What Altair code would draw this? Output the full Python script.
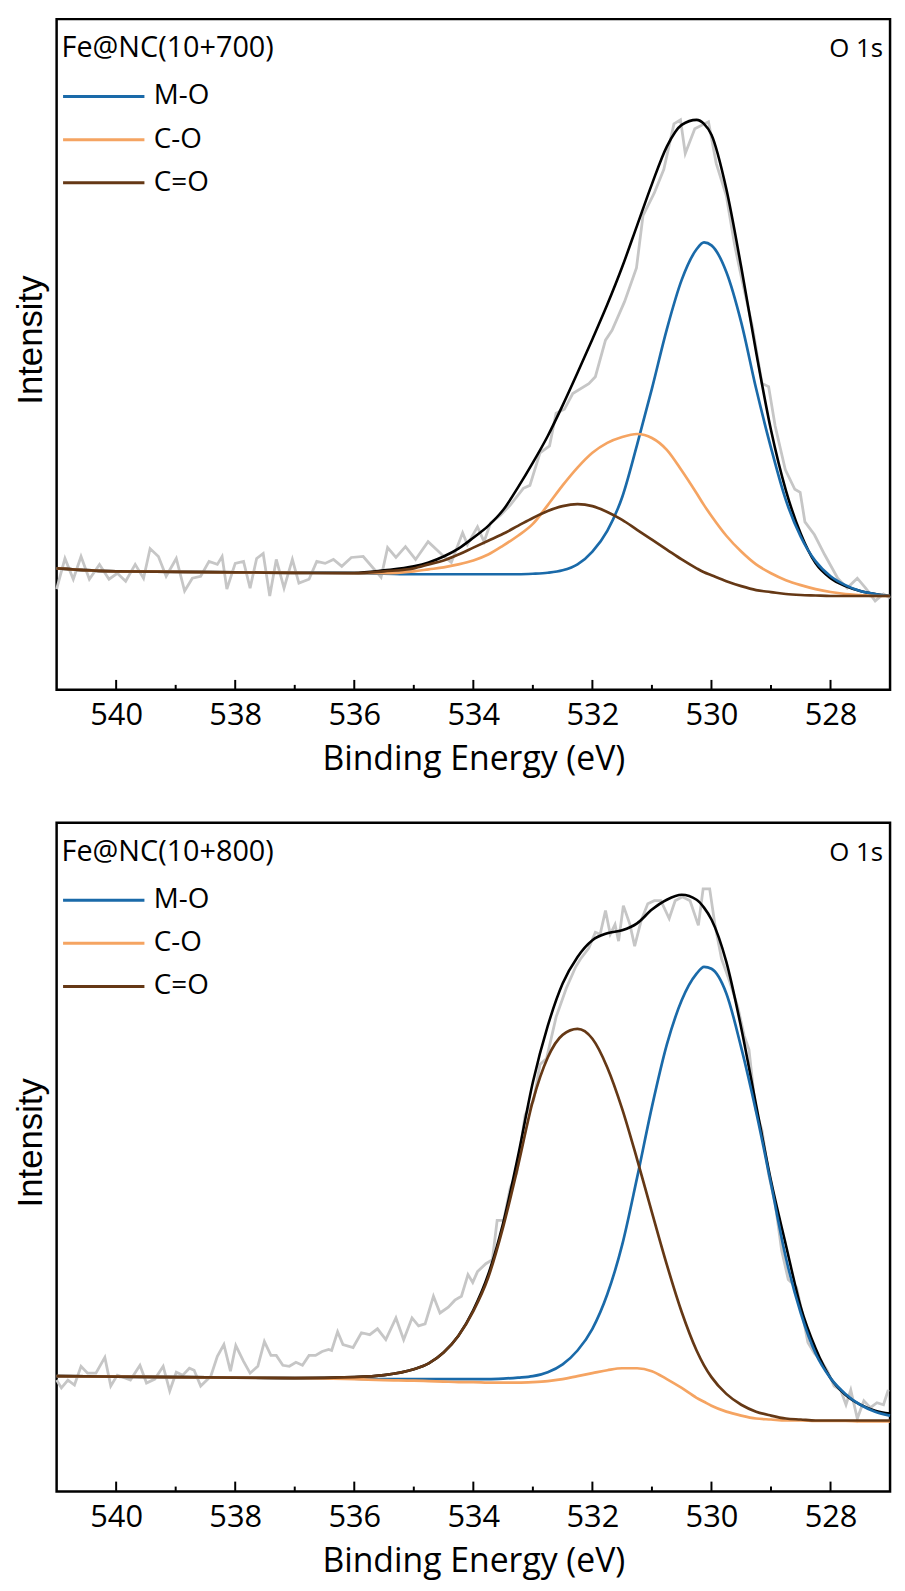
import altair as alt
import pandas as pd

# ---------------- data ----------------
E_FIT = [541, 540, 539, 538, 537, 536, 535.5, 535, 534.75, 534.5, 534.25, 534,
         533.75, 533.5, 533.25, 533, 532.75, 532.5, 532.25, 532, 531.75, 531.5,
         531.25, 531, 530.75, 530.5, 530.25, 530.125, 530, 529.75, 529.5, 529.25,
         529, 528.75, 528.5, 528.25, 528, 527.75, 527.5, 527.25, 527]

# Fe@NC(10+700)
TOP_MO = [123, 120, 119.5, 119, 118.5, 118, 117.5, 117, 117, 117, 117, 117,
          117, 117, 117, 117.5, 118.5, 121, 127, 140, 161, 195, 248, 305,
          365, 415, 446, 453, 450, 423, 372, 305, 245, 192, 155, 130, 115,
          106, 100, 97, 95]
TOP_CO = [123, 120, 119.5, 119, 118.5, 118, 118, 120, 122, 124, 127, 131,
          137, 146, 156, 168, 187, 207, 225, 240, 250, 256, 259, 255,
          243, 222, 199, 187, 176, 156, 140, 127, 118, 111, 106, 102, 99,
          97, 96, 95, 95]
TOP_CEO = [123, 120, 119.5, 119, 118.5, 118, 120, 123, 127, 131, 137, 144,
           151, 158, 166, 174, 181, 186, 188, 186, 180, 172, 162, 152,
           142, 132, 123, 119, 116, 110, 105, 101, 99, 97, 96, 95.5, 95,
           95, 95, 95, 95]
TOP_ENV = [123, 120, 119.5, 119, 118.5, 118.5, 121, 125, 129, 135, 143, 154,
           166, 182, 205, 230, 257, 288, 321, 355, 390, 428, 470, 512,
           550, 572, 577, 573, 562, 507, 428, 342, 263, 202, 158, 128, 113,
           105, 100, 97, 95]
TOP_RAW_E = [541.0, 540.86, 540.72, 540.59, 540.45, 540.28, 540.12, 539.98, 539.84,
             539.68, 539.54, 539.43, 539.29, 539.16, 538.99, 538.85, 538.72, 538.58,
             538.44, 538.30, 538.22, 538.14, 538.0, 537.86, 537.75, 537.64, 537.53,
             537.42, 537.31, 537.18, 537.04, 536.93, 536.76, 536.63, 536.49, 536.35,
             536.21, 536.05, 535.85, 535.55, 535.44, 535.30, 535.14, 534.97, 534.76,
             534.53, 534.37, 534.18, 534.10, 533.93, 533.82, 533.71, 533.54, 533.38,
             533.16, 533.05, 532.88, 532.72, 532.61, 532.47, 532.33, 532.06, 531.95,
             531.78, 531.67, 531.46, 531.26, 531.15, 530.96, 530.80, 530.63, 530.52,
             530.44, 530.28, 530.05, 529.92, 529.75, 529.61, 529.48, 529.31, 529.15,
             529.04, 528.93, 528.76, 528.60, 528.51, 528.43, 528.27, 528.10, 527.88,
             527.72, 527.55, 527.41, 527.25, 527.11, 527.0]
TOP_RAW_V = [102, 133, 112, 135, 112, 127, 112, 118, 110,
             127, 113, 143, 135, 115, 133, 100, 113, 115,
             130, 127, 135, 102, 128, 130, 103, 133, 138,
             95, 132, 103, 132, 108, 112, 130, 128, 132,
             125, 134, 135, 114, 144, 134, 145, 132, 150,
             137, 129, 159, 147, 165, 150, 169, 177, 187,
             204, 207, 240, 247, 280, 284, 300, 310, 317,
             354, 364, 393, 427, 480, 503, 527, 573, 577,
             543, 568, 575, 533, 500, 450, 413, 367, 310,
             307, 267, 223, 203, 200, 170, 157, 137, 113,
             103, 113, 103, 90, 97, 93]

# Fe@NC(10+800)
BOT_MO = [117, 116.5, 116, 115.5, 115, 114.5, 114, 114, 114, 114, 114, 114,
          114, 114.5, 115.5, 117, 121, 129, 143, 165, 200, 250, 318, 390,
          453, 498, 525, 532, 530, 505, 450, 385, 312, 237, 181, 140, 115,
          99, 88, 81, 77]
BOT_CO = [117, 116.5, 116, 115.5, 115, 114, 113, 112.5, 112, 111.5, 111, 111,
          110.5, 110.5, 110.5, 111, 112, 114, 117, 120, 123, 125, 125, 122,
          114, 105, 95, 91, 87, 81, 77, 74, 73, 72, 72, 71.5, 71.5,
          71.5, 71, 71, 71]
BOT_CEO = [117, 116.5, 116, 115.5, 115, 116, 118, 124, 130, 141, 158, 183,
           217, 268, 330, 396, 440, 463, 469, 459, 430, 388, 337, 283,
           230, 182, 143, 128, 116, 99, 88, 81, 77, 74, 73, 72, 72,
           72, 72, 72, 72]
BOT_ENV = [117, 116.5, 116, 115.5, 115, 116, 118, 124, 130, 141, 158, 184,
           220, 272, 340, 415, 472, 515, 542, 559, 566, 569, 576, 590,
           600, 605, 600, 592, 580, 537, 470, 392, 315, 250, 187, 145, 115,
           98, 88, 82, 79]
BOT_RAW_E = [541.0, 540.92, 540.81, 540.70, 540.59, 540.48, 540.34, 540.19, 540.09,
             539.98, 539.84, 539.76, 539.60, 539.49, 539.35, 539.21, 539.10, 538.99,
             538.88, 538.77, 538.69, 538.58, 538.41, 538.30, 538.19, 538.08, 537.99,
             537.86, 537.75, 537.62, 537.51, 537.40, 537.31, 537.20, 537.09, 536.98,
             536.87, 536.76, 536.65, 536.54, 536.43, 536.38, 536.28, 536.19, 536.02,
             535.88, 535.74, 535.61, 535.47, 535.30, 535.17, 535.03, 534.92, 534.81,
             534.67, 534.56, 534.42, 534.31, 534.20, 534.09, 534.01, 533.93, 533.79,
             533.68, 533.60, 533.49, 533.38, 533.27, 533.13, 532.99, 532.88, 532.77,
             532.61, 532.44, 532.28, 532.20, 532.06, 531.95, 531.87, 531.78, 531.70,
             531.62, 531.56, 531.48, 531.37, 531.29, 531.18, 531.07, 530.96, 530.85,
             530.71, 530.61, 530.49, 530.36, 530.22, 530.14, 530.03, 529.94, 529.83,
             529.70, 529.56, 529.45, 529.37, 529.26, 529.15, 529.04, 528.93, 528.82,
             528.71, 528.57, 528.49, 528.38, 528.27, 528.16, 528.05, 527.94, 527.83,
             527.74, 527.66, 527.55, 527.44, 527.33, 527.22, 527.11, 527.03]
BOT_RAW_V = [113, 105, 113, 108, 127, 120, 120, 136, 107,
             118, 115, 113, 128, 110, 114, 127, 102, 121,
             118, 125, 123, 107, 117, 137, 149, 122, 148,
             132, 120, 127, 152, 138, 138, 128, 127, 131,
             128, 138, 138, 142, 144, 143, 162, 149, 146,
             161, 159, 165, 154, 176, 154, 176, 168, 170,
             198, 181, 187, 194, 198, 220, 212, 223, 231,
             235, 275, 275, 308, 323, 382, 396, 433, 439,
             481, 510, 532, 540, 551, 567, 565, 589, 565,
             575, 558, 594, 575, 553, 579, 596, 599, 599,
             581, 599, 603, 599, 574, 611, 611, 574, 540,
             518, 492, 462, 448, 388, 366, 322, 292, 244,
             215, 207, 185, 151, 140, 133, 122, 107, 103,
             88, 103, 74, 92, 85, 90, 88, 103]

SERIES = ["M-O", "C-O", "C=O"]
COLORS = ["#1a6aa9", "#f5a462", "#653815"]
TICKS_MAJOR = [540, 538, 536, 534, 532, 530, 528]
TICKS_MINOR = [539, 537, 535, 533, 531, 529]
X_TITLE = "Binding Energy (eV)"
Y_TITLE = "Intensity"
CORE = "O 1s"

FONT = "Open Sans"
YFONT = "Liberation Sans"
W = 840


def panel(name, h, vmax, mo, co, ceo, env, raw_e, raw_v):
    rows = []
    for s, vals in (("M-O", mo), ("C-O", co), ("C=O", ceo), ("Envelope", env)):
        for e, v in zip(E_FIT, vals):
            rows.append({"E": e, "v": v, "s": s})
    fit_df = pd.DataFrame(rows)
    raw_df = pd.DataFrame({"E": raw_e, "v": raw_v})

    xs = alt.Scale(domain=[527, 541], reverse=True, nice=False, zero=False)
    ys = alt.Scale(domain=[0, vmax], nice=False, zero=False)
    xax = alt.Axis(values=TICKS_MAJOR, title=X_TITLE, ticks=False, tickSize=0,
                   domain=False, grid=False, labelFontSize=31, labelPadding=11,
                   titleFontSize=34, titlePadding=12.5, format="d",
                   labelColor="black", titleColor="black",
                   titleFontWeight="normal", labelFont=FONT, titleFont=FONT)
    yax = alt.Axis(title=Y_TITLE, labels=False, ticks=False, domain=False,
                   grid=False, titleFontSize=35, titlePadding=8,
                   titleY=h / 2 - 15,
                   titleColor="black", titleFontWeight="normal", titleFont=YFONT)
    X = alt.X("E:Q", scale=xs, axis=xax)
    Y = alt.Y("v:Q", scale=ys, axis=yax)

    legend = alt.Legend(
        title=name, orient="none", legendX=5, legendY=15, padding=0,
        symbolType="M-1,0H3", symbolSize=1681, symbolStrokeWidth=3,
        labelFont=FONT, labelFontSize=28, labelColor="black", labelOffset=49,
        labelLimit=300, titleLimit=500,
        titleFont=FONT, titleFontSize=29, titleFontWeight="normal",
        titleColor="black", titlePadding=12, rowPadding=7.5,
    )
    cscale = alt.Scale(domain=SERIES, range=COLORS)

    raw = alt.Chart(raw_df).mark_line(color="#c6c6c6", strokeWidth=2.8).encode(x=X, y=Y)
    envl = (alt.Chart(fit_df).transform_filter(alt.datum.s == "Envelope")
            .mark_line(color="black", strokeWidth=2.6, interpolate="monotone")
            .encode(x=X, y=Y))
    comps = []
    for s in SERIES:
        comps.append(
            alt.Chart(fit_df).transform_filter(alt.datum.s == s)
            .mark_line(strokeWidth=2.7, interpolate="monotone")
            .encode(x=X, y=Y, color=alt.Color("s:N", scale=cscale, legend=legend))
        )
    tmaj = (alt.Chart(pd.DataFrame({"E": TICKS_MAJOR})).mark_rule(color="black", strokeWidth=2)
            .encode(x=X, y=alt.value(h), y2=alt.value(h - 10)))
    tmin = (alt.Chart(pd.DataFrame({"E": TICKS_MINOR})).mark_rule(color="black", strokeWidth=2)
            .encode(x=X, y=alt.value(h), y2=alt.value(h - 5)))
    lab = (alt.Chart(pd.DataFrame({"t": [CORE]}))
           .mark_text(align="right", baseline="middle", font=FONT, fontSize=26, color="black")
           .encode(text="t:N", x=alt.value(W - 7), y=alt.value(30)))
    return alt.layer(raw, envl, *comps, tmaj, tmin, lab).properties(width=W, height=h)


top = panel("Fe@NC(10+700)", 676, 679, TOP_MO, TOP_CO, TOP_CEO, TOP_ENV, TOP_RAW_E, TOP_RAW_V)
bot = panel("Fe@NC(10+800)", 674, 678, BOT_MO, BOT_CO, BOT_CEO, BOT_ENV, BOT_RAW_E, BOT_RAW_V)

chart = (alt.vconcat(top, bot, spacing=43)
         .resolve_scale(color="independent")
         .properties(padding={"left": 4, "top": 3, "right": 0, "bottom": 0})
         .configure(font=FONT)
         .configure_view(stroke="black", strokeWidth=2.5))

chart.save("out.html", embed_options={"renderer": "svg", "actions": False})
